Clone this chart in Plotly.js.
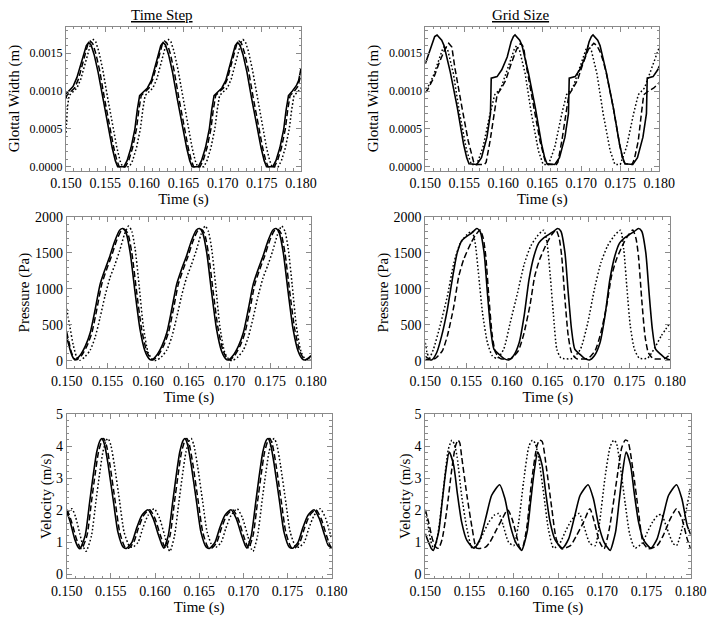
<!DOCTYPE html>
<html><head><meta charset="utf-8">
<script src="https://cdn.plot.ly/plotly-3.0.1.min.js"></script>
<style>html,body{margin:0;padding:0;background:#fff}#chart{width:714px;height:620px}</style>
</head><body><div id="chart"></div>
<script>
// ---------- tick labels and titles ----------
const timeTicks = [0.150, 0.155, 0.160, 0.165, 0.170, 0.175, 0.180];
const widthTicks = [0, 0.0005, 0.0010, 0.0015];
const pressureTicks = [0, 500, 1000, 1500, 2000];
const velocityTicks = [0, 1, 2, 3, 4, 5];
const columnTitles = ['Time Step', 'Grid Size'];
const rowTitles = ['Glottal Width (m)', 'Pressure (Pa)', 'Velocity (m/s)'];
const timeTitle = 'Time (s)';

// ---------- Glottal width, Time Step ----------
const tsWidthSolid = [[0.1500,0.00096],[0.1504,0.00100],[0.1509,0.00106],[0.1514,0.00118],[0.1519,0.00134],[0.1524,0.00153],[0.1526,0.00160],[0.1529,0.00164],[0.1532,0.00161],[0.1536,0.00148],[0.1541,0.00125],[0.1547,0.00090],[0.1553,0.00055],[0.1559,0.00025],[0.1563,0.00008],[0.1566,0.00000],[0.1574,0.00000],[0.1578,0.00008],[0.1583,0.00025],[0.1588,0.00050],[0.1591,0.00075],[0.1594,0.00094],[0.1599,0.00099],[0.1604,0.00104],[0.1609,0.00114],[0.1614,0.00132],[0.1619,0.00152],[0.1621,0.00160],[0.1624,0.00164],[0.1627,0.00161],[0.1631,0.00148],[0.1636,0.00125],[0.1642,0.00090],[0.1648,0.00055],[0.1654,0.00025],[0.1658,0.00008],[0.1661,0.00000],[0.1669,0.00000],[0.1673,0.00008],[0.1678,0.00025],[0.1683,0.00050],[0.1686,0.00075],[0.1689,0.00094],[0.1694,0.00099],[0.1699,0.00104],[0.1704,0.00114],[0.1709,0.00132],[0.1714,0.00152],[0.1716,0.00160],[0.1719,0.00164],[0.1722,0.00161],[0.1726,0.00148],[0.1731,0.00125],[0.1737,0.00090],[0.1743,0.00055],[0.1749,0.00025],[0.1753,0.00008],[0.1756,0.00000],[0.1764,0.00000],[0.1768,0.00008],[0.1773,0.00025],[0.1778,0.00050],[0.1781,0.00075],[0.1784,0.00094],[0.1789,0.00100],[0.1794,0.00107],[0.1797,0.00114],[0.1800,0.00130]];
const tsWidthDashed = [[0.1500,0.00090],[0.1501,0.00094],[0.1506,0.00099],[0.1511,0.00104],[0.1516,0.00116],[0.1521,0.00134],[0.1526,0.00154],[0.1528,0.00162],[0.1531,0.00166],[0.1534,0.00163],[0.1538,0.00150],[0.1543,0.00127],[0.1549,0.00091],[0.1555,0.00056],[0.1561,0.00025],[0.1565,0.00008],[0.1568,0.00000],[0.1576,0.00000],[0.1580,0.00008],[0.1585,0.00025],[0.1590,0.00050],[0.1593,0.00075],[0.1596,0.00094],[0.1601,0.00099],[0.1606,0.00104],[0.1611,0.00116],[0.1616,0.00134],[0.1621,0.00154],[0.1623,0.00162],[0.1626,0.00166],[0.1629,0.00163],[0.1633,0.00150],[0.1638,0.00127],[0.1644,0.00091],[0.1650,0.00056],[0.1656,0.00025],[0.1660,0.00008],[0.1663,0.00000],[0.1671,0.00000],[0.1675,0.00008],[0.1680,0.00025],[0.1685,0.00050],[0.1688,0.00075],[0.1691,0.00094],[0.1696,0.00099],[0.1701,0.00104],[0.1706,0.00116],[0.1711,0.00134],[0.1716,0.00154],[0.1718,0.00162],[0.1721,0.00166],[0.1724,0.00163],[0.1728,0.00150],[0.1733,0.00127],[0.1739,0.00091],[0.1745,0.00056],[0.1751,0.00025],[0.1755,0.00008],[0.1758,0.00000],[0.1766,0.00000],[0.1770,0.00008],[0.1775,0.00025],[0.1780,0.00050],[0.1783,0.00075],[0.1786,0.00094],[0.1791,0.00099],[0.1796,0.00106],[0.1800,0.00122]];
const tsWidthDotted = [[0.1500,0.00045],[0.1502,0.00080],[0.1504,0.00094],[0.1509,0.00099],[0.1514,0.00104],[0.1519,0.00116],[0.1524,0.00134],[0.1529,0.00155],[0.1532,0.00164],[0.1535,0.00168],[0.1538,0.00165],[0.1542,0.00152],[0.1547,0.00128],[0.1553,0.00092],[0.1559,0.00056],[0.1565,0.00025],[0.1569,0.00008],[0.1572,0.00000],[0.1581,0.00000],[0.1585,0.00008],[0.1590,0.00025],[0.1595,0.00050],[0.1598,0.00075],[0.1601,0.00094],[0.1606,0.00099],[0.1611,0.00104],[0.1616,0.00116],[0.1621,0.00134],[0.1626,0.00155],[0.1628,0.00164],[0.1631,0.00168],[0.1634,0.00165],[0.1638,0.00152],[0.1643,0.00128],[0.1649,0.00092],[0.1655,0.00056],[0.1661,0.00025],[0.1665,0.00008],[0.1668,0.00000],[0.1676,0.00000],[0.1680,0.00008],[0.1685,0.00025],[0.1690,0.00050],[0.1693,0.00075],[0.1696,0.00094],[0.1701,0.00099],[0.1706,0.00104],[0.1711,0.00116],[0.1716,0.00134],[0.1721,0.00155],[0.1723,0.00164],[0.1726,0.00168],[0.1729,0.00165],[0.1733,0.00152],[0.1738,0.00128],[0.1744,0.00092],[0.1750,0.00056],[0.1756,0.00025],[0.1760,0.00008],[0.1763,0.00000],[0.1771,0.00000],[0.1775,0.00008],[0.1780,0.00025],[0.1785,0.00050],[0.1788,0.00075],[0.1791,0.00094],[0.1796,0.00099],[0.1800,0.00104]];

// ---------- Glottal width, Grid Size ----------
const gsWidthSolid = [[0.1500,0.00136],[0.1505,0.00152],[0.1509,0.00165],[0.1512,0.00172],[0.1515,0.00174],[0.1518,0.00171],[0.1521,0.00167],[0.1524,0.00160],[0.1528,0.00143],[0.1532,0.00125],[0.1541,0.00078],[0.1549,0.00030],[0.1553,0.00012],[0.1556,0.00004],[0.1566,0.00003],[0.1572,0.00012],[0.1579,0.00039],[0.15835,0.00070],[0.15845,0.00117],[0.1592,0.00119],[0.1598,0.00128],[0.1605,0.00145],[0.1610,0.00165],[0.1613,0.00172],[0.1615,0.00174],[0.1618,0.00171],[0.1621,0.00167],[0.1624,0.00160],[0.1628,0.00143],[0.1632,0.00125],[0.1641,0.00078],[0.1649,0.00030],[0.1653,0.00012],[0.1656,0.00004],[0.1666,0.00003],[0.1672,0.00012],[0.1679,0.00039],[0.16835,0.00070],[0.16845,0.00117],[0.1692,0.00119],[0.1698,0.00128],[0.1705,0.00145],[0.1710,0.00165],[0.1713,0.00172],[0.1715,0.00174],[0.1718,0.00171],[0.1721,0.00167],[0.1724,0.00160],[0.1728,0.00143],[0.1732,0.00125],[0.1741,0.00078],[0.1749,0.00030],[0.1753,0.00012],[0.1756,0.00004],[0.1766,0.00003],[0.1772,0.00012],[0.1779,0.00039],[0.17835,0.00070],[0.17845,0.00117],[0.1792,0.00119],[0.1798,0.00128],[0.1800,0.00133]];
const gsWidthDashed = [[0.1500,0.00098],[0.1503,0.00102],[0.1511,0.00118],[0.1518,0.00138],[0.1525,0.00155],[0.1530,0.00163],[0.1534,0.00158],[0.1538,0.00130],[0.1547,0.00078],[0.1555,0.00034],[0.1562,0.00006],[0.1565,0.00003],[0.1576,0.00003],[0.1578,0.00006],[0.1583,0.00034],[0.1589,0.00078],[0.1592,0.00095],[0.1597,0.00103],[0.1603,0.00114],[0.1610,0.00136],[0.1617,0.00155],[0.1622,0.00163],[0.1626,0.00158],[0.1630,0.00130],[0.1639,0.00078],[0.1647,0.00034],[0.1654,0.00006],[0.1657,0.00003],[0.1668,0.00003],[0.1670,0.00006],[0.1675,0.00034],[0.1681,0.00078],[0.1684,0.00095],[0.1689,0.00103],[0.1695,0.00114],[0.1702,0.00136],[0.1709,0.00155],[0.1716,0.00163],[0.1720,0.00160],[0.1724,0.00152],[0.1728,0.00140],[0.1732,0.00124],[0.1741,0.00078],[0.1749,0.00030],[0.1753,0.00010],[0.1756,0.00004],[0.1765,0.00003],[0.1768,0.00010],[0.1773,0.00034],[0.1777,0.00070],[0.1780,0.00095],[0.1786,0.00100],[0.1793,0.00104],[0.1800,0.00111]];
const gsWidthDotted = [[0.1500,0.00103],[0.1505,0.00108],[0.1511,0.00122],[0.1517,0.00140],[0.1522,0.00155],[0.1525,0.00160],[0.1529,0.00153],[0.1536,0.00123],[0.1544,0.00070],[0.1553,0.00021],[0.1559,0.00003],[0.1566,0.00003],[0.1574,0.00026],[0.1583,0.00070],[0.1589,0.00095],[0.1597,0.00104],[0.1603,0.00122],[0.1609,0.00140],[0.1614,0.00155],[0.1617,0.00160],[0.1621,0.00153],[0.1628,0.00123],[0.1636,0.00070],[0.1645,0.00021],[0.1651,0.00003],[0.1658,0.00003],[0.1666,0.00026],[0.1675,0.00070],[0.1681,0.00095],[0.1689,0.00104],[0.1695,0.00122],[0.1701,0.00140],[0.1706,0.00155],[0.1709,0.00160],[0.1713,0.00153],[0.1720,0.00123],[0.1728,0.00070],[0.1737,0.00021],[0.1743,0.00003],[0.1750,0.00003],[0.1758,0.00026],[0.1767,0.00070],[0.1773,0.00095],[0.1781,0.00104],[0.1787,0.00122],[0.1793,0.00140],[0.1800,0.00158]];

// ---------- Pressure, Time Step ----------
const tsPressureSolid = [[0.1500,330],[0.1504,160],[0.1507,60],[0.1510,12],[0.1516,69],[0.1523,208],[0.1529,393],[0.1535,716],[0.1541,1063],[0.1547,1270],[0.1553,1455],[0.1559,1663],[0.1565,1816],[0.1569,1839],[0.1573,1780],[0.1578,1500],[0.1584,947],[0.1590,439],[0.1596,139],[0.1601,30],[0.1604,10],[0.1610,69],[0.1617,208],[0.1623,393],[0.1629,716],[0.1635,1063],[0.1641,1270],[0.1647,1455],[0.1653,1663],[0.1659,1816],[0.1663,1839],[0.1667,1780],[0.1672,1500],[0.1678,947],[0.1684,439],[0.1690,139],[0.1695,30],[0.1698,10],[0.1704,69],[0.1711,208],[0.1717,393],[0.1723,716],[0.1729,1063],[0.1735,1270],[0.1741,1455],[0.1747,1663],[0.1753,1816],[0.1757,1839],[0.1761,1780],[0.1766,1500],[0.1772,947],[0.1778,439],[0.1784,139],[0.1789,30],[0.1792,10],[0.1797,40],[0.1800,70]];
const tsPressureDashed = [[0.1500,400],[0.1503,250],[0.1506,110],[0.1509,35],[0.1512,12],[0.1518,69],[0.1525,208],[0.1531,393],[0.1537,716],[0.1543,1063],[0.1549,1270],[0.1555,1455],[0.1561,1663],[0.1567,1810],[0.1571,1830],[0.1575,1775],[0.1580,1500],[0.1586,947],[0.1592,439],[0.1598,139],[0.1603,30],[0.1606,10],[0.1612,69],[0.1619,208],[0.1625,393],[0.1631,716],[0.1637,1063],[0.1643,1270],[0.1649,1455],[0.1655,1663],[0.1661,1810],[0.1665,1830],[0.1669,1775],[0.1674,1500],[0.1680,947],[0.1686,439],[0.1692,139],[0.1697,30],[0.1700,10],[0.1706,69],[0.1713,208],[0.1719,393],[0.1725,716],[0.1731,1063],[0.1737,1270],[0.1743,1455],[0.1749,1663],[0.1755,1810],[0.1759,1830],[0.1763,1775],[0.1768,1500],[0.1774,947],[0.1780,439],[0.1786,139],[0.1791,30],[0.1794,10],[0.1800,60]];
const tsPressureDotted = [[0.1500,720],[0.1504,470],[0.1508,220],[0.1512,60],[0.1516,5],[0.1522,50],[0.1529,150],[0.1535,330],[0.1541,600],[0.1547,900],[0.1553,1150],[0.1559,1330],[0.1565,1530],[0.1571,1760],[0.1576,1875],[0.1580,1800],[0.1584,1560],[0.1589,1040],[0.1594,485],[0.1600,115],[0.1606,10],[0.1610,5],[0.1616,50],[0.1623,150],[0.1629,330],[0.1635,600],[0.1641,900],[0.1647,1150],[0.1653,1330],[0.1659,1530],[0.1665,1760],[0.1670,1875],[0.1674,1800],[0.1678,1560],[0.1683,1040],[0.1688,485],[0.1694,115],[0.1700,10],[0.1704,5],[0.1710,50],[0.1717,150],[0.1723,330],[0.1729,600],[0.1735,900],[0.1741,1150],[0.1747,1330],[0.1753,1530],[0.1759,1760],[0.1764,1875],[0.1768,1800],[0.1772,1560],[0.1777,1040],[0.1782,485],[0.1788,115],[0.1794,10],[0.1798,5],[0.1800,15]];

// ---------- Pressure, Grid Size ----------
const gsPressureSolid = [[0.1500,20],[0.1508,12],[0.1514,115],[0.1520,346],[0.1527,716],[0.1533,1132],[0.1539,1501],[0.1545,1677],[0.1551,1733],[0.1557,1779],[0.1563,1839],[0.1567,1802],[0.1572,1501],[0.1576,947],[0.1580,439],[0.1584,162],[0.1590,92],[0.1596,32],[0.1602,10],[0.1608,69],[0.1615,254],[0.1621,624],[0.1627,1132],[0.1633,1455],[0.1639,1640],[0.1645,1709],[0.1651,1756],[0.1657,1800],[0.1662,1839],[0.1666,1802],[0.1671,1501],[0.1675,947],[0.1679,439],[0.1683,162],[0.1689,92],[0.1695,32],[0.1701,10],[0.1707,69],[0.1714,254],[0.1720,624],[0.1726,1132],[0.1732,1455],[0.1738,1640],[0.1744,1709],[0.1750,1756],[0.1756,1800],[0.1761,1839],[0.1765,1802],[0.1770,1501],[0.1774,947],[0.1778,439],[0.1782,162],[0.1788,92],[0.1794,32],[0.1800,10]];
const gsPressureDashed = [[0.1500,60],[0.1504,30],[0.1512,30],[0.1516,70],[0.1521,140],[0.1527,346],[0.1535,762],[0.1541,1178],[0.1547,1409],[0.1556,1640],[0.1562,1756],[0.1567,1820],[0.1571,1700],[0.1574,1455],[0.1578,855],[0.1582,347],[0.1586,115],[0.1592,30],[0.1605,30],[0.1609,70],[0.1614,140],[0.1620,346],[0.1628,762],[0.1634,1178],[0.1640,1409],[0.1649,1640],[0.1655,1756],[0.1660,1820],[0.1664,1700],[0.1667,1455],[0.1671,855],[0.1675,347],[0.1679,115],[0.1685,30],[0.1699,30],[0.1703,70],[0.1708,140],[0.1714,346],[0.1722,762],[0.1728,1178],[0.1734,1409],[0.1743,1640],[0.1749,1756],[0.1754,1820],[0.1758,1700],[0.1761,1455],[0.1765,855],[0.1769,347],[0.1773,115],[0.1779,30],[0.1793,30],[0.1797,60],[0.1800,80]];
const gsPressureDotted = [[0.1500,250],[0.1502,120],[0.1505,40],[0.1510,162],[0.1518,485],[0.1527,901],[0.1535,1363],[0.1543,1640],[0.1551,1756],[0.1557,1802],[0.1561,1640],[0.1565,1225],[0.1570,670],[0.1576,254],[0.1582,69],[0.1588,32],[0.1596,162],[0.1604,531],[0.1613,947],[0.1621,1340],[0.1629,1594],[0.1637,1733],[0.1645,1816],[0.1649,1640],[0.1653,1178],[0.1657,624],[0.1661,162],[0.1666,40],[0.1680,32],[0.1690,162],[0.1699,531],[0.1707,993],[0.1715,1363],[0.1723,1594],[0.1731,1733],[0.1739,1816],[0.1743,1548],[0.1747,993],[0.1751,485],[0.1756,162],[0.1762,35],[0.1772,35],[0.1780,162],[0.1789,346],[0.1800,531]];

// ---------- Velocity, Time Step ----------
const tsVelocitySolid = [[0.1500,1.97],[0.1504,1.64],[0.1509,1.11],[0.1513,0.85],[0.1515,0.80],[0.1521,1.22],[0.1526,2.26],[0.1530,3.09],[0.1534,3.82],[0.1538,4.19],[0.1540,4.24],[0.1543,4.03],[0.1547,3.41],[0.1553,2.26],[0.1558,1.32],[0.1564,0.85],[0.1568,0.82],[0.1574,1.01],[0.1579,1.43],[0.1585,1.84],[0.1592,2.02],[0.1598,1.74],[0.1604,1.22],[0.1608,0.91],[0.1610,0.82],[0.1615,1.22],[0.1620,2.26],[0.1624,3.09],[0.1628,3.82],[0.1632,4.19],[0.1634,4.24],[0.1637,4.03],[0.1641,3.41],[0.1647,2.26],[0.1652,1.32],[0.1658,0.85],[0.1662,0.82],[0.1668,1.01],[0.1673,1.43],[0.1679,1.84],[0.1686,2.02],[0.1692,1.74],[0.1698,1.22],[0.1702,0.91],[0.1704,0.82],[0.1709,1.22],[0.1714,2.26],[0.1718,3.09],[0.1722,3.82],[0.1726,4.19],[0.1728,4.24],[0.1731,4.03],[0.1735,3.41],[0.1741,2.26],[0.1746,1.32],[0.1752,0.85],[0.1756,0.82],[0.1762,1.01],[0.1767,1.43],[0.1773,1.84],[0.1780,2.02],[0.1786,1.74],[0.1792,1.22],[0.1796,0.91],[0.1800,0.82]];
const tsVelocityDashed = [[0.1500,2.02],[0.1503,1.85],[0.1506,1.60],[0.1511,1.11],[0.1515,0.85],[0.1517,0.80],[0.1523,1.22],[0.1528,2.26],[0.1532,3.09],[0.1536,3.82],[0.1540,4.19],[0.1542,4.24],[0.1545,4.03],[0.1549,3.41],[0.1555,2.26],[0.1560,1.32],[0.1566,0.85],[0.1570,0.82],[0.1576,1.01],[0.1581,1.43],[0.1587,1.84],[0.1594,2.02],[0.1600,1.74],[0.1606,1.22],[0.1610,0.91],[0.1612,0.82],[0.1617,1.22],[0.1622,2.26],[0.1626,3.09],[0.1630,3.82],[0.1634,4.19],[0.1636,4.24],[0.1639,4.03],[0.1643,3.41],[0.1649,2.26],[0.1654,1.32],[0.1660,0.85],[0.1664,0.82],[0.1670,1.01],[0.1675,1.43],[0.1681,1.84],[0.1688,2.02],[0.1694,1.74],[0.1700,1.22],[0.1704,0.91],[0.1706,0.82],[0.1711,1.22],[0.1716,2.26],[0.1720,3.09],[0.1724,3.82],[0.1728,4.19],[0.1730,4.24],[0.1733,4.03],[0.1737,3.41],[0.1743,2.26],[0.1748,1.32],[0.1754,0.85],[0.1758,0.82],[0.1764,1.01],[0.1769,1.43],[0.1775,1.84],[0.1782,2.02],[0.1788,1.74],[0.1794,1.22],[0.1798,0.91],[0.1800,0.84]];
const tsVelocityDotted = [[0.1500,1.85],[0.1503,2.00],[0.1506,2.05],[0.1510,1.80],[0.1515,1.25],[0.1519,0.85],[0.1522,0.72],[0.1528,1.20],[0.1533,2.26],[0.1537,3.09],[0.1541,3.82],[0.1545,4.19],[0.1547,4.24],[0.1550,4.03],[0.1554,3.41],[0.1560,2.26],[0.1565,1.32],[0.1571,0.88],[0.1575,0.85],[0.1581,1.01],[0.1586,1.43],[0.1592,1.84],[0.1599,2.05],[0.1605,1.76],[0.1611,1.20],[0.1615,0.80],[0.1617,0.72],[0.1622,1.20],[0.1627,2.26],[0.1631,3.09],[0.1635,3.82],[0.1639,4.19],[0.1641,4.24],[0.1644,4.03],[0.1648,3.41],[0.1654,2.26],[0.1659,1.32],[0.1665,0.88],[0.1669,0.85],[0.1675,1.01],[0.1680,1.43],[0.1686,1.84],[0.1693,2.05],[0.1699,1.76],[0.1705,1.20],[0.1709,0.80],[0.1711,0.72],[0.1716,1.20],[0.1721,2.26],[0.1725,3.09],[0.1729,3.82],[0.1733,4.19],[0.1735,4.24],[0.1738,4.03],[0.1742,3.41],[0.1748,2.26],[0.1753,1.32],[0.1759,0.88],[0.1763,0.85],[0.1769,1.01],[0.1774,1.43],[0.1780,1.84],[0.1787,2.05],[0.1793,1.76],[0.1799,1.20],[0.1800,1.10]];

// ---------- Velocity, Grid Size ----------
const gsVelocitySolid = [[0.1500,1.27],[0.1504,0.98],[0.1507,0.80],[0.1509,0.75],[0.1515,1.32],[0.1519,2.26],[0.1523,3.20],[0.1527,3.82],[0.1532,3.41],[0.1536,2.57],[0.1541,1.64],[0.1547,1.06],[0.1555,0.82],[0.1562,1.11],[0.1569,1.84],[0.1575,2.47],[0.1584,2.80],[0.1590,2.36],[0.1596,1.53],[0.1602,1.01],[0.1607,0.80],[0.1609,0.75],[0.1615,1.32],[0.1619,2.26],[0.1623,3.20],[0.1627,3.82],[0.1632,3.41],[0.1636,2.57],[0.1641,1.64],[0.1647,1.06],[0.1655,0.82],[0.1662,1.11],[0.1669,1.84],[0.1675,2.47],[0.1684,2.80],[0.1690,2.36],[0.1696,1.53],[0.1702,1.01],[0.1707,0.80],[0.1709,0.75],[0.1715,1.32],[0.1719,2.26],[0.1723,3.20],[0.1727,3.82],[0.1732,3.41],[0.1736,2.57],[0.1741,1.64],[0.1747,1.06],[0.1755,0.82],[0.1762,1.11],[0.1769,1.84],[0.1775,2.47],[0.1784,2.80],[0.1790,2.36],[0.1796,1.53],[0.1800,1.25]];
const gsVelocityDashed = [[0.1500,2.02],[0.1504,1.60],[0.1508,1.10],[0.1512,0.85],[0.1515,0.82],[0.1519,1.10],[0.1524,1.95],[0.1530,3.30],[0.1534,4.00],[0.1537,4.19],[0.1539,4.10],[0.1541,3.69],[0.1547,2.47],[0.1553,1.43],[0.1558,0.82],[0.1568,0.85],[0.1573,1.01],[0.1579,1.32],[0.1587,1.74],[0.1593,2.02],[0.1598,1.74],[0.1604,1.11],[0.1607,0.82],[0.1610,0.85],[0.1615,1.53],[0.1620,2.88],[0.1626,3.99],[0.1629,4.19],[0.1632,4.15],[0.1637,3.30],[0.1643,2.05],[0.1648,1.11],[0.1654,0.80],[0.1664,0.90],[0.1671,1.22],[0.1679,1.64],[0.1686,2.05],[0.1691,1.64],[0.1697,1.01],[0.1702,0.80],[0.1708,1.43],[0.1716,2.88],[0.1722,3.95],[0.1726,4.19],[0.1729,4.15],[0.1735,3.20],[0.1741,1.95],[0.1746,1.01],[0.1752,0.80],[0.1762,0.90],[0.1769,1.22],[0.1777,1.74],[0.1784,2.05],[0.1790,1.74],[0.1796,1.11],[0.1800,0.80]];
const gsVelocityDotted = [[0.1500,1.95],[0.1503,1.55],[0.1506,1.05],[0.1509,0.85],[0.1512,0.95],[0.1516,1.60],[0.1521,2.80],[0.1526,3.90],[0.1530,4.19],[0.1533,4.05],[0.1536,3.65],[0.1541,2.47],[0.1547,1.43],[0.1553,0.82],[0.1560,0.97],[0.1566,1.32],[0.1572,1.64],[0.1578,1.85],[0.1583,1.90],[0.1588,1.53],[0.1594,1.01],[0.1600,0.90],[0.1605,1.53],[0.1611,2.88],[0.1617,3.99],[0.1621,4.19],[0.1624,4.10],[0.1628,3.65],[0.1634,2.47],[0.1639,1.43],[0.1645,0.82],[0.1652,0.97],[0.1658,1.32],[0.1664,1.64],[0.1670,1.85],[0.1674,1.90],[0.1679,1.53],[0.1686,0.97],[0.1692,0.90],[0.1697,1.64],[0.1703,3.00],[0.1709,3.99],[0.1713,4.19],[0.1716,4.10],[0.1720,3.45],[0.1726,2.20],[0.1731,1.26],[0.1737,0.82],[0.1745,0.97],[0.1751,1.32],[0.1757,1.64],[0.1763,1.85],[0.1767,1.87],[0.1773,1.45],[0.1780,0.97],[0.1784,0.90],[0.1792,1.64],[0.1800,2.75]];

// ---------- build ----------
const dashStyles = {solid: 'solid', dashed: '6px,3px', dotted: '1.6px,2.2px'};
function mk(pairs, kind, n, shape) {
  return {
    x: pairs.map(p => p[0]), y: pairs.map(p => p[1]),
    xaxis: 'x' + (n === 1 ? '' : n), yaxis: 'y' + (n === 1 ? '' : n),
    type: 'scatter', mode: 'lines', name: kind, showlegend: false, hoverinfo: 'skip',
    line: {color: '#000', width: kind === 'solid' ? 1.6 : 1.5, dash: dashStyles[kind], shape: shape, smoothing: 0.6}
  };
}
const panels = [
  [tsWidthSolid, tsWidthDashed, tsWidthDotted, 'linear'],
  [gsWidthSolid, gsWidthDashed, gsWidthDotted, 'linear'],
  [tsPressureSolid, tsPressureDashed, tsPressureDotted, 'spline'],
  [gsPressureSolid, gsPressureDashed, gsPressureDotted, 'spline'],
  [tsVelocitySolid, tsVelocityDashed, tsVelocityDotted, 'spline'],
  [gsVelocitySolid, gsVelocityDashed, gsVelocityDotted, 'spline']
];
const data = [];
panels.forEach((p, i) => {
  data.push(mk(p[2], 'dotted', i + 1, p[3]));
  data.push(mk(p[1], 'dashed', i + 1, p[3]));
  data.push(mk(p[0], 'solid', i + 1, p[3]));
});

const serif = 'Liberation Serif, Times New Roman, serif';
const frame = '#8a8a8a';
function xax(domain, anchor, standoff) {
  return {
    domain: domain, anchor: anchor, range: [0.150, 0.180],
    tickmode: 'array', tickvals: timeTicks, ticktext: timeTicks.map(v => v.toFixed(3)),
    ticks: 'inside', ticklen: 5, tickwidth: 1, tickcolor: frame,
    minor: {tickmode: 'linear', tick0: 0.150, dtick: 0.001, ticks: 'inside', ticklen: 2.5, tickwidth: 1, tickcolor: frame, showgrid: false},
    showline: true, linecolor: frame, linewidth: 1, mirror: 'allticks',
    showgrid: false, zeroline: false, automargin: false,
    tickfont: {family: serif, size: 14, color: '#000'},
    title: {text: timeTitle, font: {family: serif, size: 15, color: '#000'}, standoff: standoff}
  };
}
function yax(domain, anchor, range, ticks, fmt, minorStep, title, fsize, standoff) {
  return {
    domain: domain, anchor: anchor, range: range,
    tickmode: 'array', tickvals: ticks, ticktext: ticks.map(v => fmt(v)),
    ticks: 'inside', ticklen: 5, tickwidth: 1, tickcolor: frame,
    minor: {tickmode: 'linear', tick0: 0, dtick: minorStep, ticks: 'inside', ticklen: 2.5, tickwidth: 1, tickcolor: frame, showgrid: false},
    showline: true, linecolor: frame, linewidth: 1, mirror: 'allticks',
    showgrid: false, zeroline: false, automargin: false,
    tickfont: {family: serif, size: fsize, color: '#000'},
    title: {text: title, font: {family: serif, size: 15, color: '#000'}, standoff: standoff}
  };
}
const fW = v => v.toFixed(4), fP = v => String(v), fV = v => String(v);
const row1 = [0.725, 0.957], row2 = [0.406, 0.650], row3 = [0.067, 0.332];
const layout = {
  width: 714, height: 620, margin: {l: 0, r: 0, t: 0, b: 0},
  paper_bgcolor: '#fff', plot_bgcolor: '#fff', showlegend: false,
  font: {family: serif, color: '#000'},
  xaxis:  xax([0.0924, 0.4216], 'y', 2),
  yaxis:  yax(row1, 'x', [-0.00005, 0.00185], widthTicks, fW, 0.0001, rowTitles[0], 12, 6),
  xaxis2: xax([0.5957, 0.9234], 'y2', 2),
  yaxis2: yax(row1, 'x2', [-0.00005, 0.00185], widthTicks, fW, 0.0001, rowTitles[0], 12, 6),
  xaxis3: xax([0.0934, 0.4356], 'y3', 3),
  yaxis3: yax(row2, 'x3', [-105, 2000], pressureTicks, fP, 100, rowTitles[1], 14, 1),
  xaxis4: xax([0.5957, 0.9388], 'y4', 3),
  yaxis4: yax(row2, 'x4', [-105, 2000], pressureTicks, fP, 100, rowTitles[1], 14, 1),
  xaxis5: xax([0.0934, 0.4646], 'y5', 2),
  yaxis5: yax(row3, 'x5', [-0.125, 5], velocityTicks, fV, 0.2, rowTitles[2], 14, 0),
  xaxis6: xax([0.5957, 0.9674], 'y6', 2),
  yaxis6: yax(row3, 'x6', [-0.125, 5], velocityTicks, fV, 0.2, rowTitles[2], 14, 0),
  annotations: [
    {text: '<span style="text-decoration:underline">' + columnTitles[0] + '</span>', xref: 'paper', yref: 'paper', x: 162 / 714, y: 1 - 15 / 620, xanchor: 'center', yanchor: 'middle', showarrow: false, font: {family: serif, size: 15, color: '#000'}},
    {text: '<span style="text-decoration:underline">' + columnTitles[1] + '</span>', xref: 'paper', yref: 'paper', x: 520 / 714, y: 1 - 15 / 620, xanchor: 'center', yanchor: 'middle', showarrow: false, font: {family: serif, size: 15, color: '#000'}}
  ]
};
Plotly.newPlot('chart', data, layout, {staticPlot: true, displayModeBar: false});
</script>
</body></html>
